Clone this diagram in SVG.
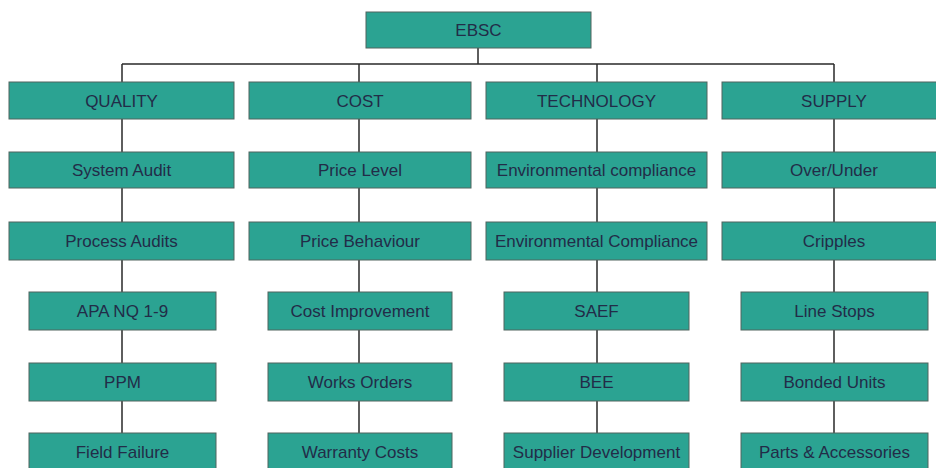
<svg xmlns="http://www.w3.org/2000/svg" width="936" height="468" viewBox="0 0 936 468">
<style>
.box{fill:#2ba392;stroke:#50645f;stroke-width:1}
.t{font-family:"Liberation Sans",Arial,sans-serif;font-size:17px;fill:#222c48;text-anchor:middle}
.c{stroke:#2a2a2a;stroke-width:1.5;fill:none}
</style>
<rect width="936" height="468" fill="#ffffff"/>
<g id="connectors">
<path class="c" d="M478,48 V64 M122,64 H834 M122,64 V82 M359,64 V82 M597,64 V82 M834,64 V82"/>
<path class="c" d="M122,119 V433 M359,119 V433 M597,119 V433 M834,119 V433"/>
</g>
<g id="ebsc"><rect class="box" x="366" y="12" width="225" height="36"/><text class="t" x="478.5" y="36">EBSC</text></g>
<g id="quality"><rect class="box" x="9" y="82" width="225" height="37"/><text class="t" x="121.5" y="106.5">QUALITY</text></g>
<g id="cost"><rect class="box" x="249" y="82" width="222" height="37"/><text class="t" x="360" y="106.5">COST</text></g>
<g id="technology"><rect class="box" x="486" y="82" width="221" height="37"/><text class="t" x="596.5" y="106.5">TECHNOLOGY</text></g>
<g id="supply"><rect class="box" x="722" y="82" width="224" height="37"/><text class="t" x="834" y="106.5">SUPPLY</text></g>
<g id="system-audit"><rect class="box" x="9" y="152" width="225" height="36"/><text class="t" x="121.5" y="176">System Audit</text></g>
<g id="price-level"><rect class="box" x="249" y="152" width="222" height="36"/><text class="t" x="360" y="176">Price Level</text></g>
<g id="env-compliance-1"><rect class="box" x="486" y="152" width="221" height="36"/><text class="t" x="596.5" y="176">Environmental compliance</text></g>
<g id="over-under"><rect class="box" x="722" y="152" width="224" height="36"/><text class="t" x="834" y="176">Over/Under</text></g>
<g id="process-audits"><rect class="box" x="9" y="222" width="225" height="38"/><text class="t" x="121.5" y="247">Process Audits</text></g>
<g id="price-behaviour"><rect class="box" x="249" y="222" width="222" height="38"/><text class="t" x="360" y="247">Price Behaviour</text></g>
<g id="env-compliance-2"><rect class="box" x="486" y="222" width="221" height="38"/><text class="t" x="596.5" y="247">Environmental Compliance</text></g>
<g id="cripples"><rect class="box" x="722" y="222" width="224" height="38"/><text class="t" x="834" y="247">Cripples</text></g>
<g id="apa"><rect class="box" x="29" y="292" width="187" height="38"/><text class="t" x="122.5" y="317">APA NQ 1-9</text></g>
<g id="cost-improvement"><rect class="box" x="268" y="292" width="184" height="38"/><text class="t" x="360" y="317">Cost Improvement</text></g>
<g id="saef"><rect class="box" x="504" y="292" width="185" height="38"/><text class="t" x="596.5" y="317">SAEF</text></g>
<g id="line-stops"><rect class="box" x="741" y="292" width="187" height="38"/><text class="t" x="834.5" y="317">Line Stops</text></g>
<g id="ppm"><rect class="box" x="29" y="363" width="187" height="38"/><text class="t" x="122.5" y="388">PPM</text></g>
<g id="works-orders"><rect class="box" x="268" y="363" width="184" height="38"/><text class="t" x="360" y="388">Works Orders</text></g>
<g id="bee"><rect class="box" x="504" y="363" width="185" height="38"/><text class="t" x="596.5" y="388">BEE</text></g>
<g id="bonded-units"><rect class="box" x="741" y="363" width="187" height="38"/><text class="t" x="834.5" y="388">Bonded Units</text></g>
<g id="field-failure"><rect class="box" x="29" y="433" width="187" height="38"/><text class="t" x="122.5" y="458">Field Failure</text></g>
<g id="warranty-costs"><rect class="box" x="268" y="433" width="184" height="38"/><text class="t" x="360" y="458">Warranty Costs</text></g>
<g id="supplier-development"><rect class="box" x="504" y="433" width="185" height="38"/><text class="t" x="596.5" y="458">Supplier Development</text></g>
<g id="parts-accessories"><rect class="box" x="741" y="433" width="187" height="38"/><text class="t" x="834.5" y="458">Parts &amp; Accessories</text></g>
</svg>
